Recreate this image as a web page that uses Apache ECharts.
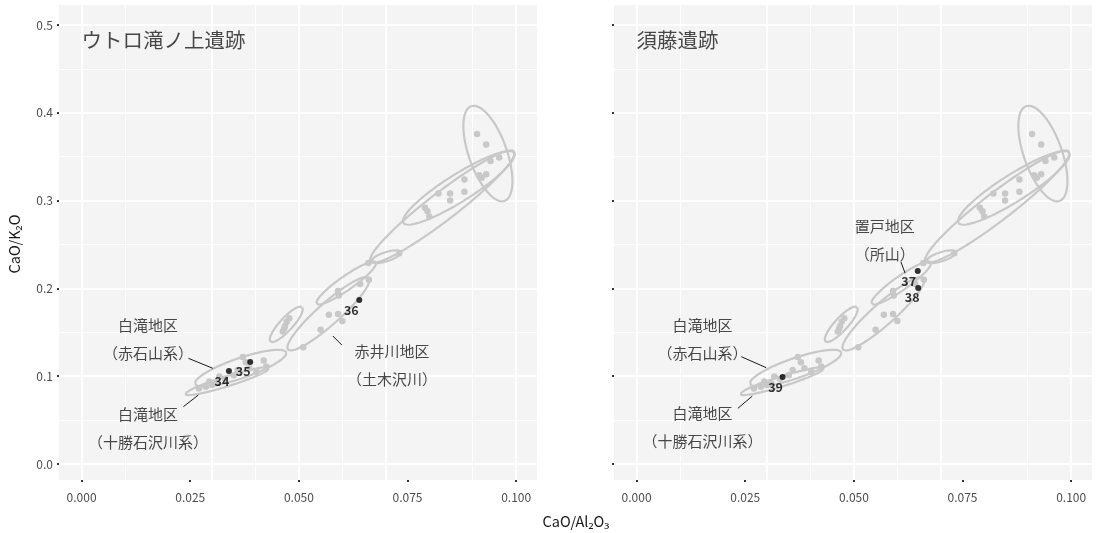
<!DOCTYPE html>
<html>
<head>
<meta charset="utf-8">
<script src="https://cdn.jsdelivr.net/npm/echarts@6/dist/echarts.min.js"></script>
<style>
  html, body { margin: 0; padding: 0; background: #ffffff; }
  #chart { width: 1098px; height: 533px; }
</style>
</head>
<body>
<div id="chart"></div>
<script>
// Reference obsidian sources (gray dots): CaO/Al2O3 vs CaO/K2O
const refX = [0.0910, 0.0931, 0.0961, 0.0941, 0.0931, 0.0915, 0.0921, 0.0881, 0.0881, 0.0848,
              0.0848, 0.0821, 0.0790, 0.0796, 0.0800, 0.0731,
              0.0660, 0.0661, 0.0641, 0.0590, 0.0592, 0.0569, 0.0590, 0.0600, 0.0550, 0.0510,
              0.0463, 0.0468, 0.0472, 0.0478, 0.0466,
              0.0371, 0.0419, 0.0378, 0.0425, 0.0359, 0.0402, 0.0386, 0.0317, 0.0294, 0.0286,
              0.0330, 0.0350, 0.0310, 0.0300, 0.0270];
const refY = [0.376, 0.364, 0.349, 0.345, 0.330, 0.329, 0.326, 0.324, 0.310, 0.308,
              0.300, 0.308, 0.292, 0.288, 0.282, 0.240,
              0.229, 0.210, 0.205, 0.197, 0.192, 0.170, 0.171, 0.163, 0.153, 0.133,
              0.151, 0.157, 0.162, 0.166, 0.154,
              0.122, 0.118, 0.116, 0.111, 0.107, 0.105, 0.109, 0.0996, 0.094, 0.088,
              0.097, 0.101, 0.092, 0.090, 0.086];

// Source-group ellipses: centre and two conjugate semi-diameters (data units)
const ellCX = [0.0935, 0.0830, 0.0868, 0.0701, 0.0609, 0.0471, 0.0568, 0.0366, 0.0335];
const ellCY = [0.3536, 0.2932, 0.3145, 0.2361, 0.2061, 0.1591, 0.1711, 0.1092, 0.0943];
const ellUX = [-0.00385, 0.0165, 0.01276, 0.00339, 0.00681, 0.00365, 0.0093, 0.0105, 0.00962];
const ellUY = [0.0540, 0.0627, 0.0399, 0.00536, 0.0236, 0.0196, 0.0408, 0.0179, 0.01483];
const ellVX = [0.00413, 0.00197, 0.00167, 0.00032, 0.00093, 0.00110, 0.00169, 0.00075, 0.00034];
const ellVY = [0.00719, -0.01265, -0.0130, -0.0049, -0.0065, -0.0050, -0.00937, -0.0108, -0.00544];

// Site samples
const siteNames = ['ウトロ滝ノ上遺跡', '須藤遺跡'];
const sampleIds = [['34', '35', '36'], ['37', '38', '39']];
const sampleX = [[0.0339, 0.0388, 0.0639], [0.0647, 0.0648, 0.0336]];
const sampleY = [[0.1059, 0.1162, 0.1868], [0.2198, 0.2005, 0.0991]];

// Source-area annotations per panel
const noteText = [
  ['白滝地区\n（赤石山系）', '白滝地区\n（十勝石沢川系）', '赤井川地区\n（土木沢川）'],
  ['置戸地区\n（所山）', '白滝地区\n（赤石山系）', '白滝地区\n（十勝石沢川系）']
];
const noteX = [[0.01530, 0.01530, 0.07146], [0.05708, 0.01519, 0.01519]];
const noteY = [[0.1424, 0.0410, 0.1128], [0.2551, 0.1424, 0.0421]];
// Leader segments: x0, y0, x1, y1
const leaders = [
  [[0.02458, 0.1204, 0.03020, 0.1090], [0.02343, 0.0653, 0.02688, 0.0786], [0.05781, 0.1458, 0.05988, 0.1355]],
  [[0.06081, 0.2304, 0.06180, 0.2172], [0.02410, 0.1222, 0.02985, 0.1097], [0.02331, 0.0634, 0.02663, 0.0774]]
];

// Axis breaks and labels
const xTicks = [0, 0.025, 0.05, 0.075, 0.1];
const xMinor = [0.0125, 0.0375, 0.0625, 0.0875];
const yTicks = [0, 0.1, 0.2, 0.3, 0.4, 0.5];
const yMinor = [0.05, 0.15, 0.25, 0.35, 0.45];
const xRange = [-0.0052, 0.1048];
const yRange = [-0.0182, 0.5228];

const FONT = '"Noto Sans CJK JP", "Noto Sans", sans-serif';
const GRAY = '#c8c8c8';
const PANEL = '#f4f4f4';

// label offsets (px) of the sample numbers relative to their dots
const idOffset = [[[-7, 10], [-7, 9], [-8, 10]], [[-9, 10], [-6, 9], [-7, 10]]];

function ellipsePath(i) {
  const pts = [];
  const n = 120;
  for (let k = 0; k <= n; k++) {
    const t = (k / n) * Math.PI * 2;
    pts.push([
      ellCX[i] + ellUX[i] * Math.cos(t) + ellVX[i] * Math.sin(t),
      ellCY[i] + ellUY[i] * Math.cos(t) + ellVY[i] * Math.sin(t)
    ]);
  }
  return pts;
}

const grids = [
  { left: 59, top: 5, width: 478, height: 475, show: true, backgroundColor: PANEL, borderWidth: 0 },
  { left: 614, top: 5, width: 478, height: 475, show: true, backgroundColor: PANEL, borderWidth: 0 }
];

const xAxes = [0, 1].map(g => ({
  type: 'value', gridIndex: g, min: xRange[0], max: xRange[1],
  axisLine: { show: false, onZero: false },
  splitLine: { show: false },
  axisTick: { show: true, customValues: xTicks, length: 2, lineStyle: { color: '#333', width: 2 } },
  axisLabel: { show: true, customValues: xTicks, margin: 11, color: '#4d4d4d', fontSize: 12, fontFamily: FONT,
               formatter: v => v.toFixed(3) }
}));
const yAxes = [0, 1].map(g => ({
  type: 'value', gridIndex: g, min: yRange[0], max: yRange[1],
  axisLine: { show: false, onZero: false },
  splitLine: { show: false },
  axisTick: { show: true, customValues: yTicks, length: 2, lineStyle: { color: '#333', width: 2 } },
  axisLabel: { show: g === 0, customValues: yTicks, margin: 6, color: '#4d4d4d', fontSize: 12, fontFamily: FONT,
               formatter: v => v.toFixed(1) }
}));

const series = [];
[0, 1].forEach(g => {
  const gridLines = [];
  xMinor.forEach(v => gridLines.push({ xAxis: v, lineStyle: { color: '#ffffff', width: 0.9, type: 'solid' } }));
  yMinor.forEach(v => gridLines.push({ yAxis: v, lineStyle: { color: '#ffffff', width: 0.9, type: 'solid' } }));
  xTicks.forEach(v => gridLines.push({ xAxis: v, lineStyle: { color: '#ffffff', width: 2, type: 'solid' } }));
  yTicks.forEach(v => gridLines.push({ yAxis: v, lineStyle: { color: '#ffffff', width: 2, type: 'solid' } }));

  series.push({
    type: 'scatter', xAxisIndex: g, yAxisIndex: g, silent: true, z: 2,
    symbolSize: 6.5, itemStyle: { color: GRAY, opacity: 1 },
    data: refX.map((x, i) => [x, refY[i]]),
    markLine: {
      silent: true, z: 1, symbol: ['none', 'none'], label: { show: false },
      emphasis: { disabled: true }, animation: false, data: gridLines
    }
  });

  ellCX.forEach((_, i) => {
    series.push({
      type: 'line', xAxisIndex: g, yAxisIndex: g, silent: true, z: 3,
      showSymbol: false, symbol: 'none', smooth: false,
      lineStyle: { color: GRAY, width: 2.2 },
      data: ellipsePath(i)
    });
  });

  leaders[g].forEach(s => {
    series.push({
      type: 'line', xAxisIndex: g, yAxisIndex: g, silent: true, z: 4,
      showSymbol: false, symbol: 'none',
      lineStyle: { color: '#1a1a1a', width: 1 },
      data: [[s[0], s[1]], [s[2], s[3]]]
    });
  });

  series.push({
    type: 'scatter', xAxisIndex: g, yAxisIndex: g, silent: true, z: 5,
    symbolSize: 6, itemStyle: { color: '#000000' },
    data: sampleIds[g].map((id, i) => ({
      name: id, value: [sampleX[g][i], sampleY[g][i]],
      label: { offset: idOffset[g][i] }
    })),
    label: { show: true, position: 'inside', formatter: p => p.name,
             color: '#000', fontSize: 12.5, fontWeight: 'bold', fontFamily: FONT }
  });

  series.push({
    type: 'scatter', xAxisIndex: g, yAxisIndex: g, silent: true, z: 6,
    symbolSize: 0,
    data: noteText[g].map((t, i) => ({ name: t, value: [noteX[g][i], noteY[g][i]] })),
    label: { show: true, position: [0, 0], align: 'center', verticalAlign: 'middle',
             formatter: p => p.name, color: '#1a1a1a', fontSize: 15, lineHeight: 28, fontFamily: FONT }
  });

  series.push({
    type: 'scatter', xAxisIndex: g, yAxisIndex: g, silent: true, z: 6,
    symbolSize: 0,
    data: [{ name: siteNames[g], value: [0, 0.4829] }],
    label: { show: true, position: [0, 0], align: 'left', verticalAlign: 'middle',
             formatter: p => p.name, color: '#1a1a1a', fontSize: 20.5, fontFamily: FONT }
  });
});

const chart = echarts.init(document.getElementById('chart'), null, { renderer: 'canvas' });
chart.setOption({
  animation: false,
  backgroundColor: '#ffffff',
  grid: grids,
  xAxis: xAxes,
  yAxis: yAxes,
  series: series,
  graphic: [
    { type: 'text', x: 14, y: 244, rotation: Math.PI / 2,
      style: { text: 'CaO/K₂O', font: '14.5px ' + FONT, fill: '#1a1a1a', align: 'center', verticalAlign: 'middle' } },
    { type: 'text', x: 576, y: 521,
      style: { text: 'CaO/Al₂O₃', font: '14.5px ' + FONT, fill: '#1a1a1a', align: 'center', verticalAlign: 'middle' } }
  ]
});
</script>
</body>
</html>
